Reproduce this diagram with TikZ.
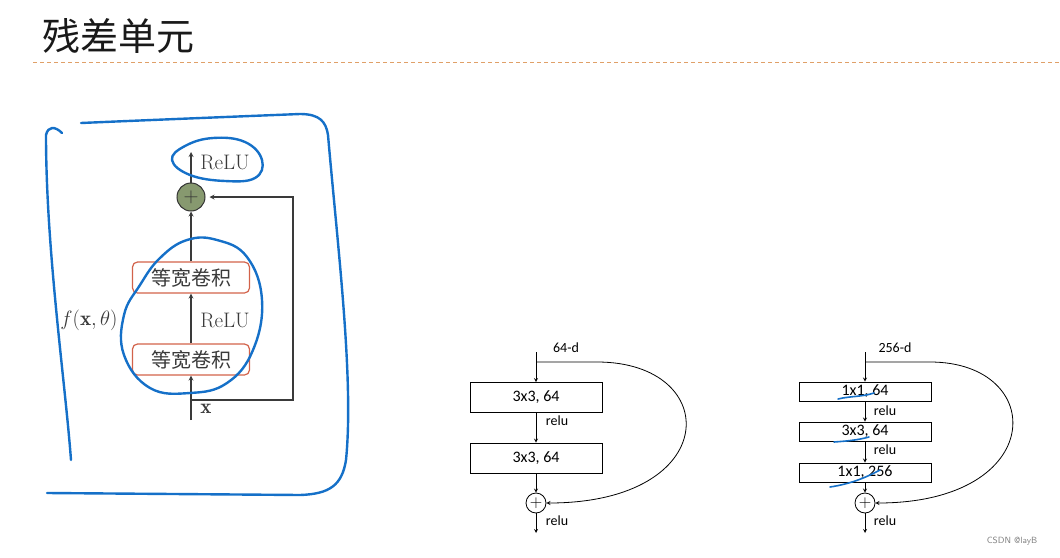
\documentclass[tikz,border=0pt]{standalone}
\usepackage{fontspec}
\newfontfamily\cjk{Noto Sans CJK SC}
\newfontfamily\calib{Carlito}
\definecolor{penblue}{HTML}{1570C8}
\definecolor{convred}{HTML}{D2624A}
\definecolor{addgreen}{HTML}{87996F}
\definecolor{linegray}{HTML}{3A3A3A}
\definecolor{rulebrown}{HTML}{E0A068}
\begin{document}
\begin{tikzpicture}[
        >=stealth,
        x=1pt,y=-1pt,
        pen/.style={draw=penblue,line width=2.4pt,line cap=round,line join=round},
        conv/.style={draw=convred,line width=1.2pt,rounded corners=5pt,minimum width=117pt,
            minimum height=31pt,inner sep=0pt,font=\cjk\fontsize{20}{20}\selectfont,text=linegray},
        lbl/.style={font=\fontsize{21}{21}\selectfont,text=linegray,inner sep=0pt},
        flow/.style={->,draw=linegray,line width=1.2pt},
        blk/.style={draw,line width=0.8pt,minimum width=132pt,inner sep=0pt,font=\calib\fontsize{16}{16}\selectfont},
        tag/.style={font=\calib\fontsize{14}{14}\selectfont,inner sep=0pt},
        sum/.style={circle,draw,line width=0.8pt,minimum size=20pt,inner sep=0pt,font=\fontsize{16}{16}\selectfont},
        arr/.style={->,line width=0.8pt},
        ]
        \useasboundingbox (0,0) rectangle (1060,557);
        % title
        \node[text=black!90] (title) at (118,36) {\cjk\fontsize{38}{38}\selectfont 残差单元};
        \draw[rulebrown,dash pattern=on 4pt off 3pt,line width=0.8pt] (33,62) -- (1060,62);

        % residual unit
        \node[conv] (conv1) at (191,277.5) {等宽卷积};
        \node[conv] (conv2) at (191,359.5) {等宽卷积};
        \node[circle,draw=black!80,fill=addgreen,line width=1pt,minimum size=28pt,inner sep=0pt,
            font=\fontsize{22}{22}\selectfont,text=black!80] (add) at (191,197) {$+$};
        \node[lbl] (reluT) at (225,162) {ReLU};
        \node[lbl] (reluM) at (225,320) {ReLU};
        \node[lbl] (fx) at (89,320) {$f(\mathbf{x},\theta)$};
        \node[lbl] (xlbl) at (206,409) {$\mathbf{x}$};
        \coordinate (xin) at (191,420);
        \coordinate (outT) at (191,152);
        \coordinate (tap) at (191,400);
        \coordinate (back) at (293,197);
        \draw[flow] (xin) -- (conv2);
        \draw[flow] (conv2) -- (conv1);
        \draw[flow] (conv1) -- (add);
        \draw[flow] (add) -- (outT);
        \draw[flow,shorten >=4pt] (tap) -| (back) -- (add);

        % pen marks
        \draw[pen] (81,123) .. controls (150,120) and (250,116) .. (300,114)
            .. controls (320,114) and (326,122) .. (328,135)
            .. controls (338,250) and (354,380) .. (346,460)
            .. controls (342,485) and (330,494) .. (300,495) -- (47,493);
        \draw[pen] (62,133) .. controls (55,126) and (48,126) .. (46,135)
            .. controls (46,250) and (65,380) .. (71,460);
        \draw[pen] plot[smooth cycle,tension=0.7] coordinates {(172,160) (185,146) (213,138)
            (245,142) (262,160) (255,178) (225,181) (190,175)};
        \draw[pen] plot[smooth cycle,tension=0.7] coordinates {(187,240) (217,240) (247,257)
            (262,300) (253,350) (227,383) (190,393) (150,388) (124,355) (124,315) (140,285) (160,258)};

        % basic block
        \node[blk,minimum height=30pt] (a1) at (536,397.5) {3x3, 64};
        \node[blk,minimum height=30pt] (a2) at (536,458) {3x3, 64};
        \node[sum] (addA) at (536,503) {$+$};
        \node[tag] (dimA) at (566,348) {64-d};
        \node[tag] (ra1) at (557,421) {relu};
        \node[tag] (ra2) at (557,521) {relu};
        \coordinate (inA) at (536,352);
        \coordinate (tapA) at (536,362);
        \coordinate (outA) at (536,533);
        \draw[arr] (inA) -- (a1);
        \draw[arr] (a1) -- (a2);
        \draw[arr] (a2) -- (addA);
        \draw[arr] (addA) -- (outA);
        \draw[arr] (tapA) -- ++(61,0) .. controls +(126,0) and (723,503) .. (addA);

        % bottleneck block
        \node[blk,minimum height=19pt] (b1) at (865,391.5) {1x1, 64};
        \node[blk,minimum height=19pt] (b2) at (865,431.5) {3x3, 64};
        \node[blk,minimum height=19pt] (b3) at (865,472.5) {1x1, 256};
        \node[sum] (addB) at (865,503) {$+$};
        \node[tag] (dimB) at (895,348) {256-d};
        \node[tag] (rb1) at (885,411) {relu};
        \node[tag] (rb2) at (885,450) {relu};
        \node[tag] (rb3) at (885,521) {relu};
        \coordinate (inB) at (865,352);
        \coordinate (tapB) at (865,362);
        \coordinate (outB) at (865,533);
        \draw[arr] (inB) -- (b1);
        \draw[arr] (b1) -- (b2);
        \draw[arr] (b2) -- (b3);
        \draw[arr] (b3) -- (addB);
        \draw[arr] (addB) -- (outB);
        \draw[arr] (tapB) -- ++(65,0) .. controls +(118,0) and (1048,503) .. (addB);
        \draw[pen,line width=1.6pt] (838,399) .. controls (850,396) and (862,397) .. (874,393);
        \draw[pen,line width=1.6pt] (834,442) .. controls (848,441) and (858,440) .. (869,437);
        \draw[pen,line width=1.6pt] (830,487) .. controls (850,484) and (865,478) .. (880,470);

        \node[font=\sffamily\fontsize{9}{9}\selectfont,text=black!50] (mark) at (1012,541) {CSDN @layB};
\end{tikzpicture}
\end{document}
